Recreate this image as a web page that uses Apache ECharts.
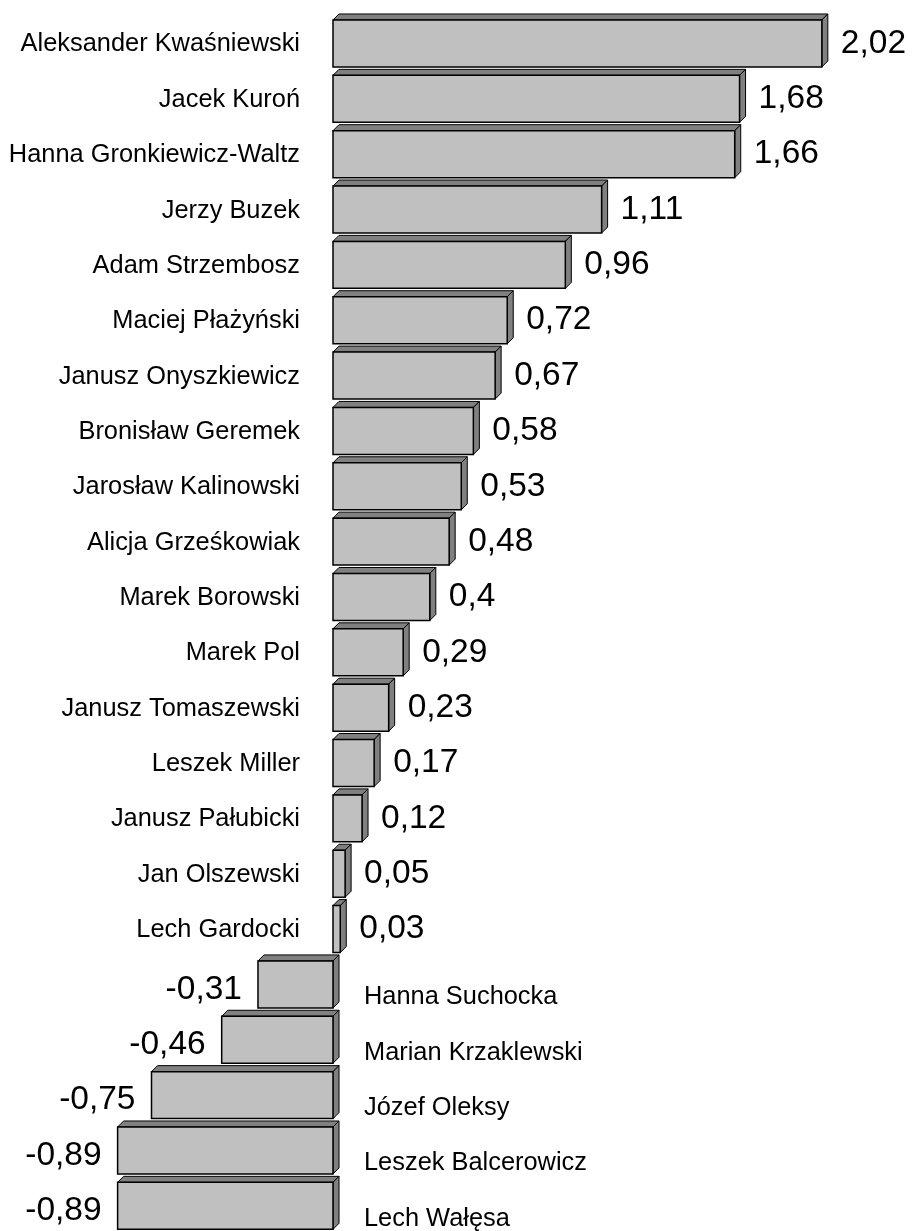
<!DOCTYPE html>
<html>
<head>
<meta charset="utf-8">
<script src="https://cdn.jsdelivr.net/npm/echarts@6/dist/echarts.min.js"></script>
<style>
html,body{margin:0;padding:0;background:#fff;}
#chart{width:915px;height:1231px;}
</style>
</head>
<body>
<div id="chart"></div>
<script>
var names = ['Aleksander Kwaśniewski','Jacek Kuroń','Hanna Gronkiewicz-Waltz','Jerzy Buzek','Adam Strzembosz','Maciej Płażyński','Janusz Onyszkiewicz','Bronisław Geremek','Jarosław Kalinowski','Alicja Grześkowiak','Marek Borowski','Marek Pol','Janusz Tomaszewski','Leszek Miller','Janusz Pałubicki','Jan Olszewski','Lech Gardocki','Hanna Suchocka','Marian Krzaklewski','Józef Oleksy','Leszek Balcerowicz','Lech Wałęsa'];
var values = [2.02,1.68,1.66,1.11,0.96,0.72,0.67,0.58,0.53,0.48,0.4,0.29,0.23,0.17,0.12,0.05,0.03,-0.31,-0.46,-0.75,-0.89,-0.89];

var FONT = "'Liberation Sans', Arial, Helvetica, sans-serif";
var chart = echarts.init(document.getElementById('chart'), null, {renderer:'canvas'});

function fmt(v){ return String(v).replace('.', ','); }

function renderItem(params, api){
  var idx = api.value(1);
  var v = api.value(0);
  var pEnd = api.coord([v, idx]);
  var p0 = api.coord([0, idx]);
  var band = api.size([0, 1])[1];
  var h = band * 0.849;
  var dx = 6, dy = 6;
  var cy = p0[1];
  var fTop = cy - (h + dy) / 2 + dy;
  var fBot = fTop + h;
  var xl = Math.min(p0[0], pEnd[0]);
  var xr = Math.max(p0[0], pEnd[0]);
  var fc = fTop + h / 2;
  var children = [
    {type:'polygon', shape:{points:[[xl,fTop],[xl+dx,fTop-dy],[xr+dx,fTop-dy],[xr,fTop]]},
      style:{fill:'#808080', stroke:'#000', lineWidth:1}},
    {type:'polygon', shape:{points:[[xr,fTop],[xr+dx,fTop-dy],[xr+dx,fBot-dy],[xr,fBot]]},
      style:{fill:'#808080', stroke:'#000', lineWidth:1}},
    {type:'rect', shape:{x:xl, y:fTop, width:xr-xl, height:h},
      style:{fill:'#c0c0c0', stroke:'#000', lineWidth:1.5}}
  ];
  var name = names[idx];
  if (v >= 0) {
    children.push({type:'text', style:{text:name, x:p0[0]-33, y:fc+1, align:'right', verticalAlign:'middle',
      font:'25.4px ' + FONT, fill:'#000'}});
    children.push({type:'text', style:{text:fmt(v), x:pEnd[0]+19, y:fc, align:'left', verticalAlign:'middle',
      font:'33.5px ' + FONT, fill:'#000'}});
  } else {
    children.push({type:'text', style:{text:name, x:p0[0]+31, y:fc+13, align:'left', verticalAlign:'middle',
      font:'25.4px ' + FONT, fill:'#000'}});
    children.push({type:'text', style:{text:fmt(v), x:pEnd[0]-16, y:fc+5, align:'right', verticalAlign:'middle',
      font:'33.5px ' + FONT, fill:'#000'}});
  }
  return {type:'group', children:children};
}

var data = values.map(function(v, i){ return [v, i]; });

chart.setOption({
  backgroundColor:'#fff',
  animation:false,
  grid:{left:18.4, right:25.4, top:12.8, bottom:0.5},
  xAxis:{type:'value', min:-1.3, max:2.3, show:false, splitLine:{show:false}},
  yAxis:{type:'category', data:names, inverse:true, show:false},
  series:[{type:'custom', renderItem:renderItem, data:data, encode:{x:0, y:1}, clip:false}]
});
</script>
</body>
</html>
